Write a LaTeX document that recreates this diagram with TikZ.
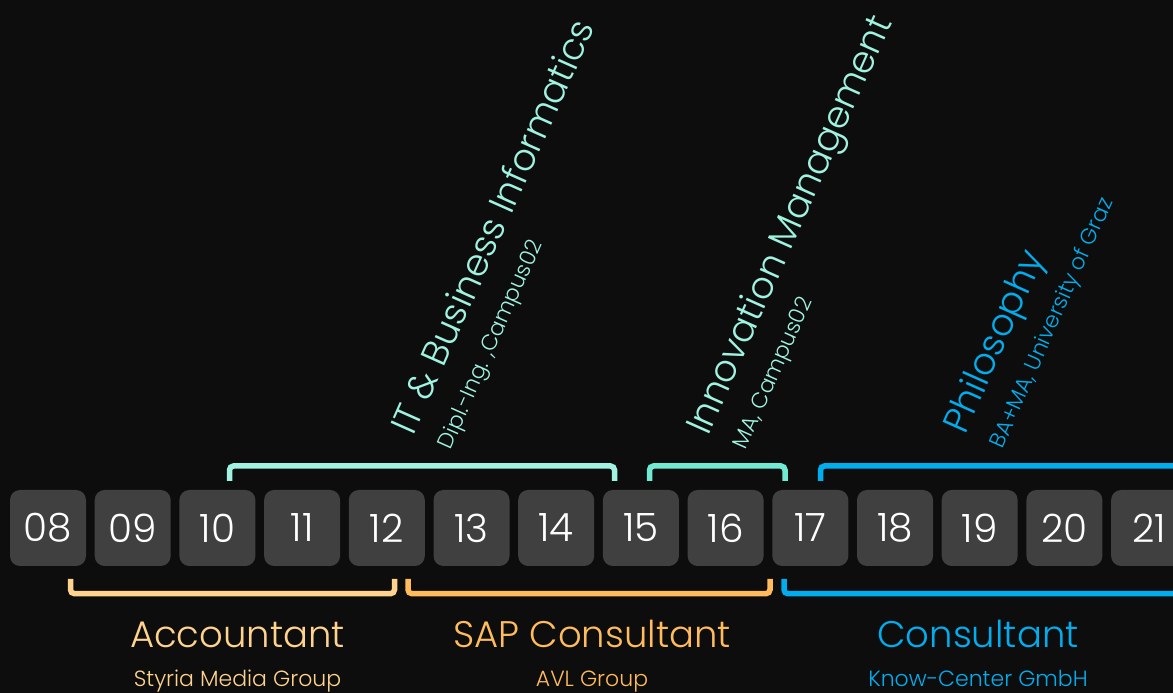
\documentclass[tikz,border=0pt]{standalone}
\usepackage{fontspec}
\setmainfont{Poppins}[UprightFont={* Light}]
\usetikzlibrary{positioning}

\definecolor{bgdark}{HTML}{0D0D0D}
\definecolor{yearbox}{HTML}{404040}
\definecolor{mintlight}{HTML}{A0F3E0}
\definecolor{mintdeep}{HTML}{70EAD3}
\definecolor{skyblue}{HTML}{00AEEF}
\definecolor{peach}{HTML}{FFD38E}
\definecolor{apricot}{HTML}{FFBB5C}

\begin{document}
\begin{tikzpicture}[x=1pt, y=1pt,
    year/.style={fill=yearbox, rounded corners=10pt, minimum size=76pt, inner sep=0pt,
        text=white, font=\fontsize{39}{39}\selectfont},
    bracket/.style={line width=5.5pt, rounded corners=4pt},
    job/.style={anchor=base, inner sep=0pt, font=\fontsize{37}{37}\selectfont},
    firm/.style={anchor=base, inner sep=0pt, font=\fontsize{22}{22}\selectfont},
    degree/.style={anchor=base west, inner sep=0pt, font=\fontsize{37}{37}\selectfont},
    school/.style={anchor=base west, inner sep=0pt, font=\fontsize{22}{22}\selectfont}]
    \useasboundingbox (0,0) rectangle (1173,693);
    \clip (0,0) rectangle (1173,693);
    \fill[bgdark] (0,0) rectangle (1173,693);

    % Year boxes, one after the other
    \node (Y08) [year] at (48,165) {08};
    \node (Y09) [year, right=8.3pt of Y08] {09};
    \node (Y10) [year, right=8.3pt of Y09] {10};
    \node (Y11) [year, right=8.3pt of Y10] {11};
    \node (Y12) [year, right=8.3pt of Y11] {12};
    \node (Y13) [year, right=8.3pt of Y12] {13};
    \node (Y14) [year, right=8.3pt of Y13] {14};
    \node (Y15) [year, right=8.3pt of Y14] {15};
    \node (Y16) [year, right=8.3pt of Y15] {16};
    \node (Y17) [year, right=8.3pt of Y16] {17};
    \node (Y18) [year, right=8.3pt of Y17] {18};
    \node (Y19) [year, right=8.3pt of Y18] {19};
    \node (Y20) [year, right=8.3pt of Y19] {20};
    \node (Y21) [year, right=8.3pt of Y20] {21};

    % Study brackets above
    \draw[bracket, mintlight] (229.5,212) |- (614.5,227) -- (614.5,212);
    \draw[bracket, mintdeep] (649.5,212) |- (785,227) -- (785,212);
    \draw[bracket, skyblue] (820.5,212) |- (1200,227);

    % Job brackets below
    \draw[bracket, peach] (70.5,114) |- (394.5,99.3) -- (394.5,114);
    \draw[bracket, apricot] (408,114) |- (770,99.3) -- (770,114);
    \draw[bracket, skyblue] (784,114) |- (1200,99.3);

    % Jobs and employers
    \node (ACC) [job, text=peach] at (237.5,45) {Accountant};
    \node (ACCfirm) [firm, text=peach] at (237.5,6) {Styria Media Group};
    \node (SAP) [job, text=apricot] at (592,45) {SAP Consultant};
    \node (SAPfirm) [firm, text=apricot] at (592,6) {AVL Group};
    \node (CON) [job, text=skyblue] at (978,45) {Consultant};
    \node (CONfirm) [firm, text=skyblue] at (978,6) {Know-Center GmbH};

    % Degrees, written along the slope
    \begin{scope}[shift={(413,256)}, rotate=66, transform shape]
        \node (ITdeg) [degree, text=mintlight] at (0,0) {IT \& Business Informatics};
        \node (ITsub) [school, text=mintlight] at (3,-40) {Dipl.-Ing. ,Campus02};
    \end{scope}
    \begin{scope}[shift={(708,256)}, rotate=66, transform shape]
        \node (IMdeg) [degree, text=mintlight] at (0,0) {Innovation Management};
        \node (IMsub) [school, text=mintlight] at (3,-40) {MA, Campus02};
    \end{scope}
    \begin{scope}[shift={(965,257)}, rotate=66, transform shape]
        \node (PHdeg) [degree, text=skyblue] at (0,0) {Philosophy};
        \node (PHsub) [school, text=skyblue] at (3,-40) {BA+MA, University of Graz};
    \end{scope}
\end{tikzpicture}
\end{document}
